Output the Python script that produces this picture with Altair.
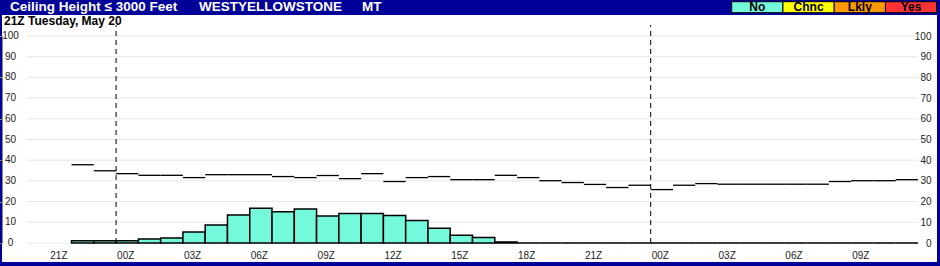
import altair as alt
import pandas as pd

FONT = "Liberation Sans, Arial, sans-serif"

# ---- data ----
hours = list(range(-2, 36))  # hour index relative to 00Z Wednesday (start of each hourly bin)
prob_no = [1.1, 1.1, 1.1, 1.9, 2.4, 5.3, 8.7, 13.5, 16.8, 15.1, 16.4, 13.0, 14.3, 14.3,
           13.3, 10.9, 7.1, 3.7, 2.7, 0.5, 0, 0, 0, 0, 0, 0, 0, 0, 0, 0, 0, 0, 0, 0,
           0, 0, 0, 0]
ceiling_line = [37.8, 34.9, 33.5, 32.7, 32.7, 31.6, 33.0, 33.0, 33.0, 32.1, 31.6, 32.6,
                31.1, 33.5, 29.7, 31.6, 32.1, 30.6, 30.6, 32.7, 31.6, 30.1, 29.2, 28.3,
                26.8, 27.9, 25.8, 27.9, 28.7, 28.4, 28.4, 28.4, 28.4, 28.4, 29.7, 30.1,
                30.1, 30.6]
tick_hours = [-3, 0, 3, 6, 9, 12, 15, 18, 21, 24, 27, 30, 33]
tick_labels = ["21Z", "00Z", "03Z", "06Z", "09Z", "12Z", "15Z", "18Z", "21Z", "00Z",
               "03Z", "06Z", "09Z"]
grid_hours = list(range(-4, 37))
y_ticks = [0, 10, 20, 30, 40, 50, 60, 70, 80, 90, 100]
day_starts = [0, 24]
legend_cats = ["No", "Chnc", "Lkly", "Yes"]
legend_colors = ["#74F9DC", "#FFFF00", "#FF9900", "#FF3333"]
title_parts = ["Ceiling Height \u2264 3000 Feet", "WESTYELLOWSTONE", "MT"]
subtitle = "21Z Tuesday, May 20"

BAR = "#74F9DC"
GRID = "#e6e6e6"
LABEL = "#222222"

df = pd.DataFrame({
    "t": hours,
    "t2": [h + 1 for h in hours],
    "no": prob_no,
    "ceil": ceiling_line,
})

xscale = alt.Scale(domain=[-4, 36], range=[25, 916], nice=False, zero=False)
yscale = alt.Scale(domain=[0, 100], range=[228, 21], nice=False, zero=False)

hgrid = alt.Chart(pd.DataFrame({"y": y_ticks})).mark_rule(color=GRID, strokeWidth=1).encode(
    x=alt.datum(-4), x2=alt.datum(36),
    y=alt.Y("y:Q", scale=yscale, axis=None),
)

bars = alt.Chart(df).mark_rect(fill=BAR, stroke="black", strokeWidth=1.5).encode(
    x=alt.X("t:Q", scale=xscale,
            axis=alt.Axis(values=grid_hours, grid=True, gridColor=GRID, labels=False,
                          ticks=False, domain=False, title=None)),
    x2="t2:Q",
    y=alt.Y("no:Q", scale=yscale, axis=None),
    y2=alt.datum(0),
)

steps = alt.Chart(df).mark_rule(color="black", strokeWidth=1.3).encode(
    x=alt.X("t:Q", scale=xscale, axis=None),
    x2="t2:Q",
    y=alt.Y("ceil:Q", scale=yscale,
            axis=alt.Axis(orient="right", values=y_ticks, grid=False, domain=False,
                          ticks=False, tickSize=0, labelPadding=0, labelAlign="right",
                          offset=-6, labelFont=FONT, labelFontSize=10,
                          labelColor=LABEL, title=None)),
)

# left-hand value labels, centred in the margin left of the plot grid
ylab = alt.Chart(pd.DataFrame({"y": y_ticks})).mark_text(
    align="center", baseline="middle", font=FONT, fontSize=10, color=LABEL).encode(
    x=alt.value(8.5),
    y=alt.Y("y:Q", scale=yscale, axis=None),
    text="y:Q",
)

days = alt.Chart(pd.DataFrame({"t": day_starts})).mark_rule(
    color="black", strokeWidth=1, strokeDash=[5, 4]).encode(
    x=alt.X("t:Q", scale=xscale, axis=None),
    y=alt.datum(0), y2=alt.datum(105.3),
)

xlab = alt.Chart(pd.DataFrame({"t": tick_hours, "lab": tick_labels})).mark_text(
    align="left", baseline="middle", dx=1, font=FONT, fontSize=10, color=LABEL).encode(
    x=alt.X("t:Q", scale=xscale, axis=None),
    y=alt.datum(-6.2),
    text="lab:N",
)

main = alt.layer(hgrid, bars, steps, days, ylab, xlab).resolve_axis(y="independent")

leg_df = pd.DataFrame({"cat": legend_cats, "col": legend_colors})
leg_x = alt.X("cat:N", sort=legend_cats,
              scale=alt.Scale(domain=legend_cats, range=[729.7, 934.7],
                              paddingInner=0, paddingOuter=0),
              axis=None)
leg_rect = alt.Chart(leg_df).mark_rect(stroke="black", strokeWidth=1).encode(
    x=leg_x, y=alt.value(-13.3), y2=alt.value(-2.3),
    fill=alt.Fill("col:N", scale=None),
)
leg_text = alt.Chart(leg_df).mark_text(
    font=FONT, fontSize=12, fontWeight="bold", color="black", baseline="alphabetic").encode(
    x=leg_x, y=alt.value(-4.3), text="cat:N",
)

one = pd.DataFrame({"a": [0]})
title_x = [8, 197, 360]
titles = [
    alt.Chart(one).mark_text(text=txt, font=FONT, fontSize=13.5, fontWeight="bold",
                             color="white", align="left", baseline="alphabetic").encode(
        x=alt.value(xp), y=alt.value(-4))
    for txt, xp in zip(title_parts, title_x)
]
sub = alt.Chart(one).mark_text(text=subtitle, font=FONT, fontSize=12, fontWeight="bold",
                               color="black", align="left", baseline="alphabetic").encode(
    x=alt.value(2), y=alt.value(10.3))

chart = alt.layer(main, leg_rect, leg_text, *titles, sub).resolve_scale(
    x="independent").properties(
    width=935, height=247,
    padding={"left": 2, "top": 15, "right": 3, "bottom": 4},
    autosize=alt.AutoSizeParams(type="none"),
    background="#000099",
).configure_view(fill="white", strokeWidth=0)

chart.save("out.html", embed_options={"renderer": "svg", "actions": False})
